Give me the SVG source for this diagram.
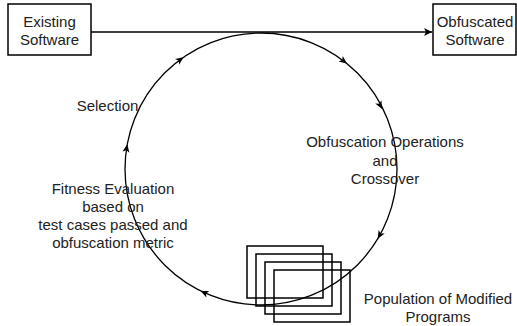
<svg xmlns="http://www.w3.org/2000/svg" width="517" height="326" viewBox="0 0 517 326">
<style>
  .box { fill: #fff; stroke: #000; stroke-width: 1.5; }
  .rect { fill: none; stroke: #000; stroke-width: 1.5; }
  .line { fill: none; stroke: #000; stroke-width: 1.3; }
  .head { fill: #000; stroke: none; }
  text { font-family: "Liberation Sans", Arial, Helvetica, sans-serif; font-size: 15px; fill: #222; text-anchor: middle; }
</style>
<defs>
  <marker id="arrow" markerWidth="10" markerHeight="10" refX="8" refY="4" orient="auto" markerUnits="userSpaceOnUse">
    <path d="M0,0 L8,4 L0,8 L2,4 Z" fill="#000"/>
  </marker>
  <path id="ah" d="M4,0 L-4,-3.5 L-2,0 L-4,3.5 Z"/>
</defs>

<g id="connectors">
  <line class="line" x1="91" y1="32" x2="432" y2="32" marker-end="url(#arrow)"/>
  <circle class="line" cx="261" cy="169" r="136"/>
  <use href="#ah" class="head" transform="translate(180.3,59.5) rotate(-36.4)"/>
  <use href="#ah" class="head" transform="translate(343.8,61.1) rotate(37.5)"/>
  <use href="#ah" class="head" transform="translate(380.2,105.4) rotate(62.1)"/>
  <use href="#ah" class="head" transform="translate(379.7,235.3) rotate(119.2)"/>
  <use href="#ah" class="head" transform="translate(204.2,292.6) rotate(204.7)"/>
  <use href="#ah" class="head" transform="translate(126.6,148.2) rotate(-81.2)"/>
</g>

<g id="existing-software">
  <rect class="box" x="8" y="4" width="83" height="51"/>
  <text x="49.5" y="27">Existing</text>
  <text x="49.5" y="45">Software</text>
</g>

<g id="obfuscated-software">
  <rect class="box" x="433" y="4" width="83" height="51"/>
  <text x="475" y="27">Obfuscated</text>
  <text x="475" y="45">Software</text>
</g>

<g id="selection">
  <text x="107.5" y="111">Selection</text>
</g>

<g id="fitness-evaluation">
  <text x="113" y="194">Fitness Evaluation</text>
  <text x="113" y="212">based on</text>
  <text x="113" y="230">test cases passed and</text>
  <text x="113" y="248">obfuscation metric</text>
</g>

<g id="obfuscation-operations">
  <text x="385" y="147">Obfuscation Operations</text>
  <text x="385" y="165.5">and</text>
  <text x="385" y="184">Crossover</text>
</g>

<g id="population">
  <rect class="rect" x="247" y="246" width="76" height="52"/>
  <rect class="rect" x="256" y="254" width="76" height="52"/>
  <rect class="rect" x="265" y="262" width="76" height="52"/>
  <rect class="rect" x="274" y="270" width="76" height="52"/>
  <text x="438" y="304">Population of Modified</text>
  <text x="438" y="322">Programs</text>
</g>
</svg>
